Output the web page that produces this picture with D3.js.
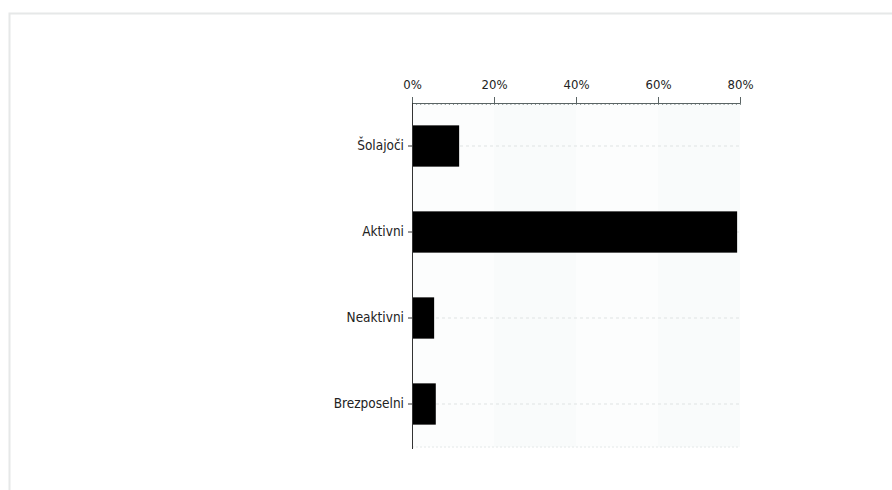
<!DOCTYPE html>
<html>
<head>
<meta charset="utf-8">
<script src="https://cdn.jsdelivr.net/npm/d3@7"></script>
<style>
  body { margin: 0; background: #fff; }
  text { font-family: "DejaVu Sans Condensed", "DejaVu Sans", sans-serif; fill: #222; }
</style>
</head>
<body>
<div id="chart"></div>
<script>
var categories = ["Šolajoči", "Aktivni", "Neaktivni", "Brezposelni"];
var values = [11.5, 79.3, 5.4, 5.8];
var tickValues = [0, 20, 40, 60, 80];

var svgWidth = 892;
var svgHeight = 490;
var margin = { top: 103, right: 152, bottom: 43, left: 412 };
var width = svgWidth - margin.left - margin.right;
var height = svgHeight - margin.top - margin.bottom;

var svg = d3.select("#chart")
  .append("svg")
  .attr("width", svgWidth)
  .attr("height", svgHeight);

// outer frame
svg.append("rect")
  .attr("x", 9.5).attr("y", 13.5)
  .attr("width", 900).attr("height", 500)
  .attr("fill", "none")
  .attr("stroke", "#e6e8e8")
  .attr("stroke-width", 2);

var chartGroup = svg.append("g")
  .attr("transform", `translate(${margin.left}, ${margin.top})`);

var x = d3.scaleLinear().domain([0, 80]).range([0, width]);
var y = d3.scaleBand().domain(categories).range([0, height]).paddingInner(0.52).paddingOuter(0.26);

// plot background
chartGroup.append("rect")
  .attr("width", width).attr("height", height)
  .attr("fill", "#f9fbfb");

// alternate column shading
chartGroup.selectAll(".band")
  .data([0, 40])
  .enter()
  .append("rect")
  .attr("x", d => x(d))
  .attr("width", x(20) - x(0))
  .attr("height", height)
  .attr("fill", "#fcfdfd");

// dashed grid at category centers
chartGroup.selectAll(".grid")
  .data(categories)
  .enter()
  .append("line")
  .attr("x1", 0).attr("x2", width)
  .attr("y1", d => y(d) + y.bandwidth() / 2)
  .attr("y2", d => y(d) + y.bandwidth() / 2)
  .attr("stroke", "#dfe3e3")
  .attr("stroke-dasharray", "3,3");

// bottom dashed edge
chartGroup.append("line")
  .attr("x1", 0).attr("x2", width)
  .attr("y1", height).attr("y2", height)
  .attr("stroke", "#e4e8e8")
  .attr("stroke-dasharray", "2,2");

// bars
chartGroup.selectAll(".bar")
  .data(values)
  .enter()
  .append("rect")
  .attr("x", 0)
  .attr("y", (d, i) => y(categories[i]))
  .attr("width", d => x(d))
  .attr("height", y.bandwidth())
  .attr("fill", "#000");

// minor ticks on top axis
chartGroup.selectAll(".minor")
  .data(d3.range(0, 81, 1))
  .enter()
  .append("line")
  .attr("x1", d => x(d) + 0.5).attr("x2", d => x(d) + 0.5)
  .attr("y1", 0).attr("y2", 2)
  .attr("stroke", "#8a9494");

// top axis
var topAxis = d3.axisTop(x)
  .tickValues(tickValues)
  .tickFormat(d => d + "%")
  .tickSize(6)
  .tickPadding(8);

var gx = chartGroup.append("g").call(topAxis);
gx.select(".domain").attr("stroke", "#5a6464").attr("d", `M0.5,0.5H${width + 0.5}`);
gx.selectAll(".tick line").attr("stroke", "#5a6464");
gx.selectAll(".tick text").attr("font-size", 13).attr("fill", "#222");

// left axis
var leftAxis = d3.axisLeft(y).tickSize(4).tickPadding(4);
var gy = chartGroup.append("g").call(leftAxis);
gy.select(".domain").attr("stroke", "#333").attr("d", `M0.5,0V${height + 2}`);
gy.selectAll(".tick line").attr("stroke", "#333");
gy.selectAll(".tick text").attr("font-size", 13.5).attr("fill", "#222");
</script>
</body>
</html>
